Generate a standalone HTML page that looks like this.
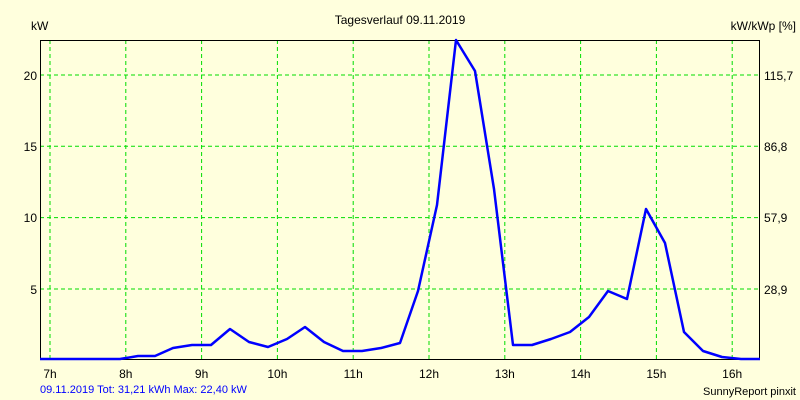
<!DOCTYPE html>
<html><head><style>body{margin:0;background:#FFFFDD}</style></head><body>
<svg width="800" height="400" xmlns="http://www.w3.org/2000/svg" style="display:block;font-family:'Liberation Sans',sans-serif;font-size:12px">
<rect width="800" height="400" fill="#FFFFDD"/>
<g stroke="#00DD00" stroke-dasharray="4,3" stroke-width="1">
<line x1="50" y1="40" x2="50" y2="360"/><line x1="125.8" y1="40" x2="125.8" y2="360"/><line x1="201.6" y1="40" x2="201.6" y2="360"/><line x1="277.4" y1="40" x2="277.4" y2="360"/><line x1="353.2" y1="40" x2="353.2" y2="360"/><line x1="429" y1="40" x2="429" y2="360"/><line x1="504.8" y1="40" x2="504.8" y2="360"/><line x1="580.6" y1="40" x2="580.6" y2="360"/><line x1="656.4" y1="40" x2="656.4" y2="360"/><line x1="732.2" y1="40" x2="732.2" y2="360"/>
<line x1="40" y1="75" x2="760" y2="75"/><line x1="40" y1="146.3" x2="760" y2="146.3"/><line x1="40" y1="217.6" x2="760" y2="217.6"/><line x1="40" y1="289" x2="760" y2="289"/>
</g>
<rect x="40.5" y="40.5" width="719" height="319" fill="none" stroke="#000"/>
<polyline fill="none" stroke="#0000FF" stroke-width="2.5" stroke-linejoin="round" points="40,359 120,359 138,356 155,356 173,348 192,345 211,345 230,329 249,342 268,347 287,339 305,327 324,342 343,351 362,351 381,348 400,343 418,291 437,205 456,40 475,71 494,189 513,345 532,345 551,339 570,332 589,317 608,291 627,299 646,209 665,243 684,332 703,351 722,357 741,359 760,359"/>
<g fill="#000">
<text x="400" y="24" text-anchor="middle">Tagesverlauf 09.11.2019</text>
<text x="31" y="30">kW</text>
<text x="796" y="30" text-anchor="end">kW/kWp [%]</text>
<g text-anchor="end"><text x="37" y="80">20</text><text x="37" y="151">15</text><text x="37" y="222">10</text><text x="37" y="294">5</text></g>
<g><text x="764" y="80">115,7</text><text x="764" y="151">86,8</text><text x="764" y="222">57,9</text><text x="764" y="294">28,9</text></g>
<g text-anchor="middle"><text x="50" y="378">7h</text><text x="125.8" y="378">8h</text><text x="201.6" y="378">9h</text><text x="277.4" y="378">10h</text><text x="353.2" y="378">11h</text><text x="429" y="378">12h</text><text x="504.8" y="378">13h</text><text x="580.6" y="378">14h</text><text x="656.4" y="378">15h</text><text x="732.2" y="378">16h</text></g>
<text x="796" y="395" text-anchor="end" font-size="11">SunnyReport pinxit</text>
</g>
<text x="40" y="393" fill="#0000FF" font-size="11">09.11.2019 Tot: 31,21 kWh Max: 22,40 kW</text>
</svg>
</body></html>
